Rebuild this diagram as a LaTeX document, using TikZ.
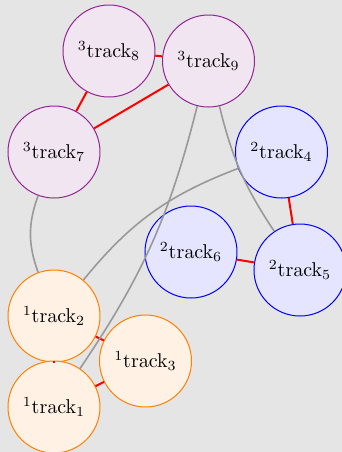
\documentclass[tikz,border=0pt]{standalone}
\begin{document}
\begin{tikzpicture}[x=0.5pt,y=-0.5pt,
  trk/.style={circle,minimum size=46pt,inner sep=0pt,line width=0.5pt},
  grpA/.style={trk,draw=orange,fill=orange!10},
  grpB/.style={trk,draw=blue,fill=blue!10},
  grpC/.style={trk,draw=violet!85,fill=violet!10},
  link/.style={draw=red,line width=1pt},
  cross/.style={draw=gray!80,line width=0.8pt}]
  % canvas
  \fill[gray!20] (0,0) rectangle (342,452);
  \useasboundingbox (0,0) rectangle (342,452);
  % group 3
  \node[grpC] (t8) at (109,51)  {${}^{3}\mathrm{track}_{8}$};
  \node[grpC] (t9) at (208.5,61) {${}^{3}\mathrm{track}_{9}$};
  \node[grpC] (t7) at (54,152)  {${}^{3}\mathrm{track}_{7}$};
  % group 2
  \node[grpB] (t4) at (281.5,152) {${}^{2}\mathrm{track}_{4}$};
  \node[grpB] (t6) at (191,252)   {${}^{2}\mathrm{track}_{6}$};
  \node[grpB] (t5) at (300,270)   {${}^{2}\mathrm{track}_{5}$};
  % group 1
  \node[grpA] (t2) at (54,316)    {${}^{1}\mathrm{track}_{2}$};
  \node[grpA] (t3) at (145.5,361) {${}^{1}\mathrm{track}_{3}$};
  \node[grpA] (t1) at (54,407)    {${}^{1}\mathrm{track}_{1}$};
  % links inside groups
  \draw[link] (t8) -- (t9);
  \draw[link] (t8) -- (t7);
  \draw[link] (t9) -- (t7);
  \draw[link] (t4) -- (t5);
  \draw[link] (t6) -- (t5);
  \draw[link] (t2) -- (t3);
  \draw[link] (t1) -- (t3);
  \draw[link] (t2) -- (t1);
  % links across groups
  \draw[cross] (t7) to[bend right=20] (t2);
  \draw[cross] (t9) to[bend left=10] (t1);
  \draw[cross] (t4) to[bend right=15] (t2);
  \draw[cross] (t9) to[bend right=10] (t5);
\end{tikzpicture}
\end{document}
